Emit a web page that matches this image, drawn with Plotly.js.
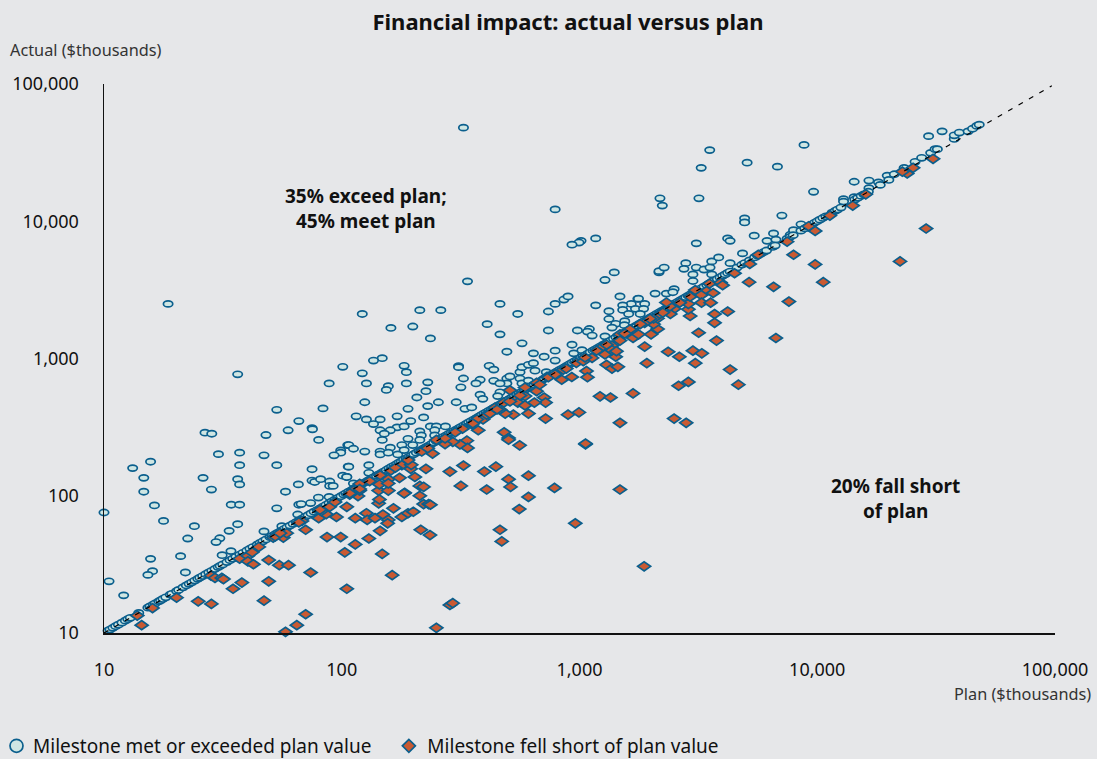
<!DOCTYPE html>
<html><head><meta charset="utf-8">
<script src="https://cdn.plot.ly/plotly-3.0.1.min.js"></script>
<style>html,body{margin:0;padding:0;background:#e6e7e9}#c{width:1097px;height:759px}</style>
</head><body><div id="c"></div>
<script>
const chartTitle = "Financial impact: actual versus plan";
const tickValues = [10, 100, 1000, 10000, 100000];
const tickLabels = ["10", "100", "1,000", "10,000", "100,000"];
const metName = "Milestone met or exceeded plan value";
const shortName = "Milestone fell short of plan value";

// Milestones clearly above the plan line
const metPlan = [10,13.2,15.7,14.7,14.7,16.3,17.8,30.3,37.2,37.2,47.1,53.3,26.1,28.3,36.5,37.2,65.7,58,34.3,37.2,53.3,66,65.3,24,36.5,33.6,30.7,29.6,22.5,47.1,21,15.7,16,15.3,22,10.5,12.1,56,31.4,34.2,18.6,36.5,53.3,66,101,88.5,83.4,59.5,75,75.3,48,80,26.6,28.4,99,99,92.8,106,75,75,77,81.5,89,89,92,101,105,106.5,79.8,88.5,67.5,74,115,122,213,261,161,199,236,463,550,790,740,860,409,463,740,980,573,930,495,640,790,710,946,148,136,122,183,187,127,187,230,157,154,226,207,125,255,303,230,190,310,310,417,436,325,382,367,436,317,495,510,495,562,573,610,640,650,562,725,790,463,463,453,382,392,573,610,330,352,171,221,127,145,136,195,171,183,160,145,151,148,236,250,273,213,246,216,246,190,213,199,179,160,107,112,125,145,145,157,172,183,107,130,105,130,112,325,790,1015,995,930,1170,338,1400,1280,1480,1760,1650,1520,895,1170,4950,3100,4200,4300,5430,6550,2160,2160,2270,2800,2750,3100,3340,3540,3600,3850,4850,4300,3000,3000,3600,6150,6700,7700,7950,8550,2080,2320,2500,2470,1770,1880,1330,1520,1720,1860,1330,1610,1800,1420,1550,1545,1370,1100,1080,1130,1280,1024,3530,8800,5070,6800,3250,3180,2180,2230,9650,14300,16500,18100,19700,21100,16500,14300,12900,12900,7100,4950,4950,23200,25800,27500,30000,31300,32000,33500,29400,37700,37700,39600,43100,45000,46900,48000];
const metActual = [75.5,159,177,135,107,85,65.5,201,206,167,197,167,135,111,132,121,121,107,86,86,81,86,73,60,62,55.5,49,46,48.8,55,36.3,34.7,28.2,26.5,27.6,23.8,18.8,60,36.9,39.5,2500,767,423,350,870,658,433,300,311,305,277,255,288,283,214,206,197,234,156,129,126,132,127,118,118,140,137,163,97,98,87,88.5,379,2110,2250,2250,1670,1710,1400,2500,2110,2500,2200,2690,1780,1500,1600,1600,1290,1260,1120,1090,1140,1030,1090,1005,966,780,885,795,658,658,670,628,590,578,520,480,480,480,450,430,880,865,885,830,715,700,658,688,617,715,740,658,795,865,900,925,815,715,795,966,658,567,532,545,508,658,690,430,440,379,372,360,360,333,350,315,320,300,300,283,255,320,320,320,294,300,275,275,260,255,234,234,224,234,220,210,210,200,206,200,215,163,167,137,147,123,48100,12200,7200,7000,6750,7500,3650,4240,3730,2830,2720,2500,2440,2830,2440,9870,6900,7500,7200,7850,8150,4240,4330,4600,4950,4500,4600,4450,4600,5100,5450,5830,4950,4100,3670,4100,7200,7350,7970,8600,9500,2970,2970,3200,3040,2730,2500,2210,2260,2300,2300,1940,2110,2110,1790,1870,1750,1680,1640,1570,1470,1450,1150,33000,36000,26700,25000,24500,14700,14700,13000,16400,19400,19800,19200,21500,22000,17400,15000,14500,13900,11000,10500,9800,24500,27100,29000,31500,33500,33500,45200,41700,39800,42300,44300,45200,47200,49500,50500];

// Milestones that met plan exactly: actual equals plan
const onPlanValues = [10.4,10.6,10.9,11.2,11.5,11.9,12.3,12.6,12.9,14,15.3,15.6,16.1,16.4,17,17.3,17.7,18.2,19,19.3,20.2,20.6,21.5,22.2,22.8,23.4,24.1,24.8,25.3,26,26.8,27.6,28.4,29.3,30.2,30.8,31.6,32.9,33.9,34.8,35.9,37.3,38.4,39.9,41.1,42.3,44.1,45.3,46.6,48,49.9,50.9,52.4,53.9,55.5,57.2,58.9,60.6,62.4,64.3,66.2,68.1,70.1,72.2,74.3,76.5,78.7,81,83.4,85.9,88.4,91,93.7,96.4,99.3,102,104,107,110,112,115,118,121,124,127,130,133,136,140,143,147,150,154,158,162,166,170,174,178,182,187,191,196,201,206,211,216,221,227,232,238,244,250,256,262,268,275,282,289,296,303,311,318,326,334,342,350,359,368,377,386,396,405,415,426,436,447,458,470,481,493,505,518,530,544,557,571,585,600,615,630,645,661,678,695,712,730,748,766,785,805,825,845,866,887,909,932,955,979,1003,1010,1035,1060,1085,1110,1140,1165,1195,1225,1260,1290,1320,1355,1390,1425,1460,1500,1535,1575,1615,1655,1700,1740,1785,1830,1875,1925,1975,2020,2070,2120,2175,2230,2290,2350,2410,2470,2530,2600,2660,2730,2800,2870,2940,3020,3100,3180,3260,3340,3430,3520,3610,3700,3800,3900,4000,4100,4200,4300,4600,4820,4960,5190,5450,5610,5780,5950,6120,6500,6650,7470,7690,7920,8540,8870,9150,9430,9710,10000,10270,10560,10870,11550,11900,12170,12580,14400,14800,15300,15700,16400,18400,20000];

// Milestones below plan
const shortPlan = [13.8,14.4,16,20.2,24.9,28.3,28.2,29.3,31.3,31.8,34.9,38,37.2,40.3,42,44.8,40.3,42.5,49.3,54.6,59.7,49.3,47.1,70.5,64.7,58,250,285,293,105,74,163,103,148,86.7,99,114,130,145,70.5,51.5,56.8,58.7,52.5,55,68,80,95,86,89,82,105,114,127,128,138,149,157,156,179,190,200,165,143,144,221,232,215,235,184,213,143,157,117,108,145,157,144,157,119,112,119,161,175,179,195,203,226,213,221,183,285,317,325,398,445,407,610,503,513,610,558,785,1480,960,463,471,1870,236,1060,1060,482,503,503,560,375,322,352,336,338,314,293,272,241,250,895,995,720,610,527,487,1480,2500,2810,1220,1350,1680,2870,2610,1880,1920,1420,2360,2630,3000,3270,3070,4300,4660,6700,3770,3170,3700,4200,3700,2920,2870,2870,2500,2410,2130,2000,2050,2130,2050,1880,1680,1680,1770,1480,1480,1370,1280,1370,1430,1300,1370,1450,1070,1080,928,1130,970,1037,842,710,720,646,550,590,550,590,660,480,440,393,370,30700,25300,23900,22800,16000,14100,11300,9800,9200,28700,22300,9800,10600,7470,7950,5650,5200,4490,5170,6550,7600,3520,3920,4000,3420,3650,3070,3250,3260,3560,2400,119,196,217,407,463,730,660,855,740,590,510,2320,2180,1630,1260,356,420,450,510,562,680,790,880,1055,1180,1300,1550,1800,1980,2240,2640,2920,66,81,93.7,108,131,168,190,230,272,300];
const shortActual = [13.4,11.4,15.2,18.1,17,16.3,26.2,25.2,25.2,24.7,21,23.3,34.8,36.5,38.7,42.4,33.3,31.7,34,31.2,31.2,23.8,17.2,13.7,11.4,10.2,10.9,16,16.5,21,27.6,26.4,38.7,37.7,50,50,44.2,48.8,55.5,56.5,49.5,49.5,53.4,50.5,53.4,65.5,68.6,70,73.5,83,77.3,83,68.6,74.6,66.7,68.6,73,66.7,63,70,74.6,76.5,81,88,94,87,87,56.5,51.7,105,100,109,109,99.5,102,141,132,121,123,122,109,109,153,135,167,157,137,157,118,116,104,150,118,166,150,163,111,140,132,116,98,80,114,111,63,56.5,46.5,30.6,86,237,240,290,263,256,233,300,308,332,252,223,237,247,238,203,255,390,405,365,397,390,397,340,365,340,530,520,557,675,633,1220,925,1030,1120,1030,1140,1090,925,830,645,1410,1350,1540,2110,2200,1820,2040,2280,2500,2300,2110,1640,1500,1780,1960,1960,1820,1570,1410,1500,1500,1350,1240,1070,1150,1130,900,845,870,810,730,733,1010,930,955,700,520,477,477,515,532,477,455,578,477,437,360,360,28500,24500,22300,23000,15700,13000,11000,8500,9200,8850,5100,4850,3600,7100,5700,5700,4880,4180,3600,3330,2600,3510,3580,3420,3100,3000,3150,2900,2550,2550,2400,112,168,210,390,425,735,665,830,730,615,587,2560,2110,1630,1230,336,397,425,487,538,645,767,845,1017,1140,1260,1520,1780,1950,2160,2550,2820,64,79,90,104,128,160,182,222,262,290];

// Plan-equals-actual reference line, ends as drawn
const refLine = [10, 97000];

const font = "'Noto Sans', sans-serif";
const bg = "#e6e7e9", ink = "#111111", soft = "#333333";
const W = 1097, H = 759, L = 104, R = 1055, T = 84, B = 633.5;
const px = v => (v - L) / (R - L), py = v => (B - v) / (B - T);

const traces = [
  { type: "scatter", mode: "markers", name: metName, cliponaxis: false,
    x: metPlan.concat(onPlanValues), y: metActual.concat(onPlanValues),
    marker: { symbol: "circle", size: 13, color: "#cfe6e3", line: { color: "#0b5f8d", width: 1.7 } } },
  { type: "scatter", mode: "markers", name: shortName, cliponaxis: false,
    x: shortPlan, y: shortActual,
    marker: { symbol: "diamond", size: 10, color: "#c95a32", line: { color: "#0b5f8d", width: 1.7 } } },
  { type: "scatter", mode: "lines", showlegend: false, hoverinfo: "skip", cliponaxis: false,
    x: refLine, y: refLine, line: { color: "#000000", width: 1.2, dash: "5px,7px" } }
];

const axis = {
  type: "log", range: [1, 5], tickmode: "array", tickvals: tickValues, ticktext: tickLabels,
  showgrid: false, zeroline: false, showline: true, linecolor: "#111111", linewidth: 1.5,
  ticks: "", tickfont: { family: font, size: 18, color: ink }
};

const note = (text, x, y, opts) => Object.assign({
  text, xref: "paper", yref: "paper", x: px(x), y: py(y), showarrow: false,
  font: { family: font, size: 19, color: ink, weight: 700 }, align: "center", xanchor: "center", yanchor: "middle"
}, opts || {});

const layout = {
  width: W, height: H, paper_bgcolor: bg, plot_bgcolor: bg,
  margin: { l: L, r: W - R, t: T, b: H - B, pad: 0, autoexpand: false },
  title: { text: "<b>" + chartTitle + "</b>", x: 568 / W, xanchor: "center", y: 1 - 22 / H, yanchor: "middle", yref: "container",
    font: { family: font, size: 22, color: ink } },
  xaxis: Object.assign({}, axis, { ticklabelstandoff: 20, automargin: false }),
  yaxis: Object.assign({}, axis, { ticklabelstandoff: 20, automargin: false }),
  showlegend: true,
  legend: { orientation: "h", xref: "container", yref: "container", x: 0, xanchor: "left", y: 1 - 746 / H, yanchor: "middle", bgcolor: "rgba(0,0,0,0)",
    font: { family: font, size: 19, color: ink }, itemwidth: 30, traceorder: "normal" },
  annotations: [
    note("35% exceed plan;<br>45% meet plan", 366, 209),
    note("20% fall short<br>of plan", 895, 499),
    note("Actual ($thousands)", 8, 50, { xanchor: "left", align: "left", font: { family: font, size: 16.3, color: soft } }),
    note("Plan ($thousands)", 1093, 695, { xanchor: "right", align: "right", font: { family: font, size: 16.3, color: soft } })
  ]
};

Plotly.newPlot("c", traces, layout, { displayModeBar: false, staticPlot: true }).then(gd => {
  // The reference draws its markers on a stretched plot: flatten them the same way.
  const stretch = [[0.72, 0.47], [1.0, 0.7]];
  gd.querySelectorAll(".scatterlayer .trace").forEach((tr, i) => {
    if (!stretch[i]) return;
    tr.querySelectorAll(".points path").forEach(p => {
      p.setAttribute("transform", (p.getAttribute("transform") || "") + " scale(" + stretch[i][0] + "," + stretch[i][1] + ")");
      p.style.vectorEffect = "non-scaling-stroke";
    });
  });
  // Legend placement: keys closer to labels, entries spaced as in the reference.
  const shift = (el, dx) => {
    const m = /translate\(\s*([-\d.]+)[ ,]+([-\d.]+)\s*\)/.exec(el.getAttribute("transform") || "");
    const x = m ? +m[1] : 0, y = m ? +m[2] : 0;
    el.setAttribute("transform", "translate(" + (x + dx) + "," + y + ")");
  };
  const legend = gd.querySelector(".legend");
  shift(legend, -7);
  const box = legend.querySelector(".scrollbox");
  if (box) box.removeAttribute("clip-path");
  legend.querySelectorAll(".traces").forEach((t, i) => {
    if (i === 1) shift(t, 11);
    const s = t.querySelector(".legendsymbols");
    if (s) s.setAttribute("transform", "translate(" + (i === 0 ? 3.5 : 1.5) + ",0)");
  });
});
</script></body></html>
